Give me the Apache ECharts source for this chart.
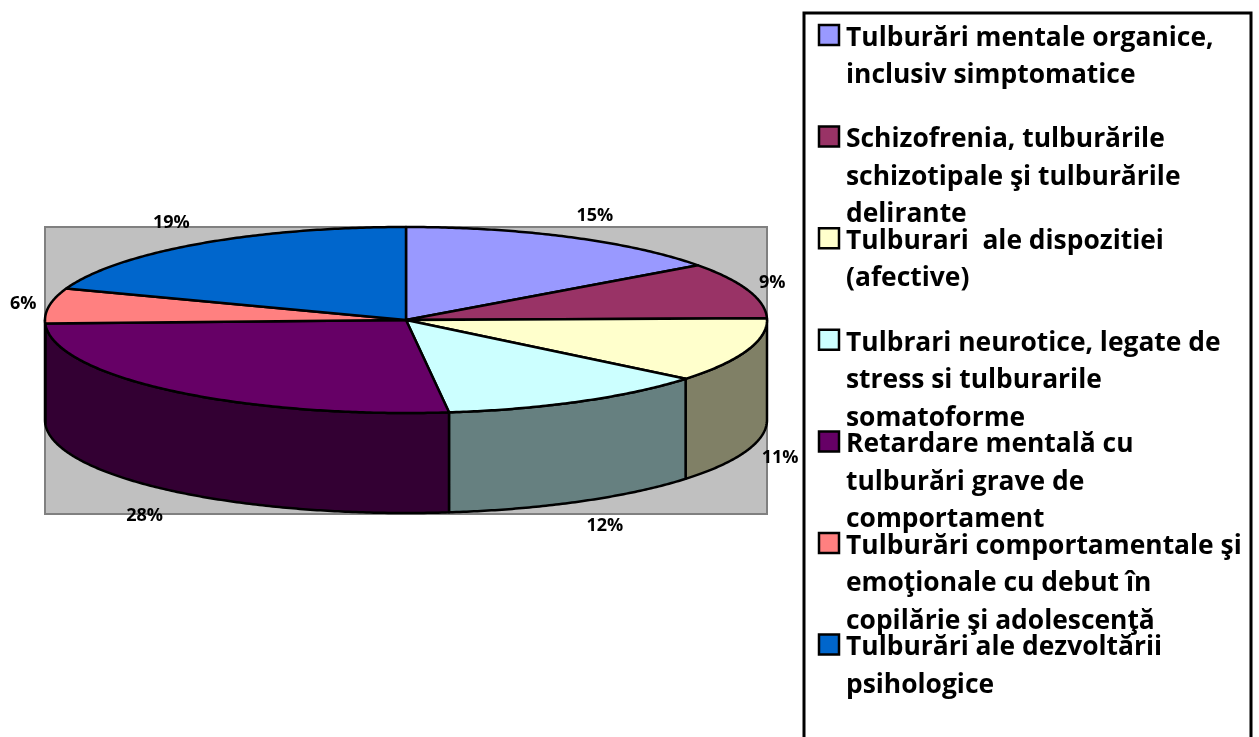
<!DOCTYPE html>
<html>
<head>
<meta charset="utf-8">
<style>
  body { margin: 0; background: #fff; }
  #chart { width: 1259px; height: 737px; }
</style>
<script src="https://cdn.jsdelivr.net/npm/echarts@6/dist/echarts.min.js"></script>
</head>
<body>
<div id="chart"></div>
<script>
const categories = [
  'Tulburări mentale organice,\ninclusiv simptomatice',
  'Schizofrenia, tulburările\nschizotipale şi tulburările\ndelirante',
  'Tulburari  ale dispozitiei\n(afective)',
  'Tulbrari neurotice, legate de\nstress si tulburarile\nsomatoforme',
  'Retardare mentală cu\ntulburări grave de\ncomportament',
  'Tulburări comportamentale şi\nemoţionale cu debut în\ncopilărie şi adolescenţă',
  'Tulburări ale dezvoltării\npsihologice'
]
// slice sizes
const values = [15.0, 9.7, 11.2, 12.2, 26.3, 6.1, 19.5]
// printed labels
const percentLabels = ['15%', '9%', '11%', '12%', '28%', '6%', '19%']
const topColors = ['#9999FF', '#993366', '#FFFFCC', '#CCFFFF', '#660066', '#FF8080', '#0066CC']
const sideColors = ['#4D4D80', '#4D1A33', '#808066', '#668080', '#330033', '#804040', '#003366']

// pie geometry
const cx = 406
const cy = 320
const rx = 361
const ry = 93
const depth = 100
// label shift from the rim point at the middle of each slice
const labelShift = [[25, -21], [24, -8], [33, 7], [25, 24], [-27, 25], [-26, -2], [-27, -21]]

const total = values.reduce((a, b) => a + b, 0)
const rim = (t, dy) => [cx + rx * Math.sin(t), cy - ry * Math.cos(t) + (dy || 0)]
const startShare = i => values.slice(0, i).reduce((a, b) => a + b, 0) / total
const toAngle = share => share * Math.PI * 2

function arc (from, to, dy) {
  const pts = []
  const steps = Math.max(2, Math.ceil((to - from) / 0.01))
  for (let k = 0; k <= steps; k++) {
    pts.push(rim(from + (to - from) * k / steps, dy))
  }
  return pts
}

function renderSlice (params, api) {
  const i = params.dataIndex
  const from = toAngle(startShare(i))
  const to = from + toAngle(api.value(0) / total)
  const children = []
  // front wall only between 3 o'clock and 9 o'clock
  const a = Math.max(from, Math.PI / 2)
  const b = Math.min(to, Math.PI * 3 / 2)
  if (b > a) {
    const wall = arc(a, b, 0).concat(arc(a, b, depth).reverse())
    children.push({
      type: 'polygon',
      shape: { points: wall },
      style: { fill: sideColors[i], stroke: '#000', lineWidth: 2.5, lineJoin: 'round' }
    })
  }
  children.push({
    type: 'polygon',
    shape: { points: [[cx, cy]].concat(arc(from, to, 0)) },
    style: { fill: topColors[i], stroke: '#000', lineWidth: 2.5, lineJoin: 'round' }
  })
  return { type: 'group', children: children }
}

function renderLabel (params, api) {
  const i = params.dataIndex
  const mid = toAngle(startShare(i) + api.value(0) / total / 2)
  const front = Math.cos(mid) < 0 && i !== 5
  const p = rim(mid, front ? depth : 0)
  return {
    type: 'text',
    x: p[0] + labelShift[i][0],
    y: p[1] + labelShift[i][1],
    style: {
      text: percentLabels[i],
      font: 'bold 18px "Open Sans"',
      fill: '#000',
      align: 'center',
      verticalAlign: 'middle'
    }
  }
}

// legend rows: swatch + wrapped text, these overlap like in the source so it is laid out by hand
const legendRows = []
categories.forEach((name, i) => {
  const rowTop = 25 + i * 101.6
  legendRows.push({
    type: 'rect',
    shape: { x: 819, y: rowTop, width: 20, height: 20 },
    style: { fill: topColors[i], stroke: '#000', lineWidth: 2.5 }
  })
  legendRows.push({
    type: 'text',
    x: 846,
    y: rowTop - 5.5,
    style: {
      text: name,
      font: 'bold 26.4px "Open Sans"',
      fill: '#000',
      lineHeight: 37.5,
      verticalAlign: 'top'
    }
  })
})

const chart = echarts.init(document.getElementById('chart'))
chart.setOption({
  animation: false,
  backgroundColor: '#fff',
  graphic: [
    {
      type: 'rect',
      shape: { x: 45, y: 227, width: 722, height: 287 },
      style: { fill: '#C0C0C0', stroke: '#808080', lineWidth: 2 }
    },
    {
      type: 'rect',
      shape: { x: 804, y: 13, width: 447, height: 760 },
      style: { fill: '#fff', stroke: '#000', lineWidth: 3 }
    }
  ].concat(legendRows),
  series: [
    {
      type: 'custom',
      coordinateSystem: 'none',
      renderItem: renderSlice,
      data: values.map(v => [v]),
      silent: true
    },
    {
      type: 'custom',
      coordinateSystem: 'none',
      renderItem: renderLabel,
      data: values.map(v => [v]),
      silent: true
    }
  ]
})
</script>
</body>
</html>
